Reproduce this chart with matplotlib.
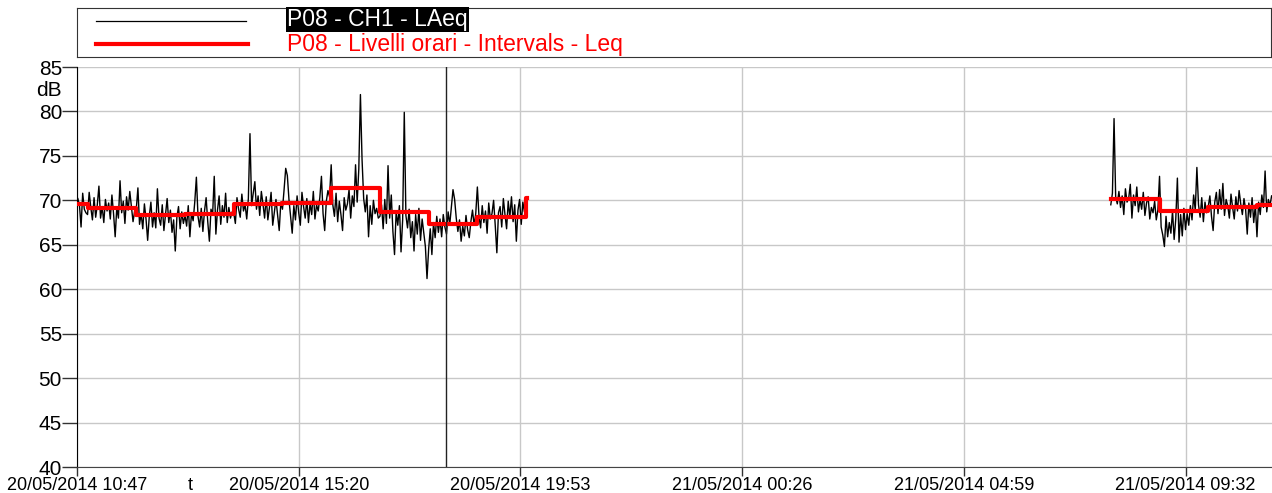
import matplotlib
matplotlib.use('Agg')
import matplotlib.pyplot as plt
import matplotlib.dates as mdates
import pandas as pd

# livelli LAeq a 2 minuti (dB)
laeq_giorno1 = [
    70.2, 69.5, 67.0, 70.8, 69.0, 68.6,  # 10:48
    68.4, 70.9, 69.2, 67.8, 70.3, 68.1, 69.5, 71.6, 68.0, 69.3, 67.5, 70.1, 68.8, 69.7, 67.9,
    70.6, 68.5, 65.9, 69.2, 68.0, 72.2, 68.6, 69.9, 67.4, 70.4, 68.9, 71.0, 69.3, 67.6, 68.8,  # 11
    69.0, 71.4, 67.3, 68.5, 66.8, 69.6, 67.9, 65.5, 68.2, 69.8, 67.0, 68.6, 66.9, 71.3, 68.0,
    67.2, 69.5, 66.6, 68.4, 70.2, 67.5, 68.9, 66.4, 67.8, 64.3, 68.1, 69.3, 66.8, 68.7, 67.4,  # 12
    68.3, 67.1, 69.4, 65.9, 68.6, 67.7, 69.8, 72.6, 68.2, 67.0, 69.1, 66.5, 68.8, 70.3, 67.6,
    65.4, 69.0, 68.4, 72.7, 66.2, 68.9, 70.5, 67.3, 69.4, 68.1, 70.8, 67.5, 69.2, 68.0, 68.7,  # 13
    68.6, 67.4, 70.3, 69.0, 68.1, 70.7, 68.8, 69.5, 67.9, 70.2, 77.5, 69.4, 70.8, 72.1, 69.0,
    70.5, 68.3, 71.0, 69.6, 68.0, 70.4, 67.8, 69.2, 70.9, 67.2, 68.7, 70.1, 68.4, 66.6, 69.8,  # 14
    69.0, 71.2, 73.6, 72.8, 70.1, 68.2, 66.3, 69.4, 67.8, 70.5, 68.6, 67.2, 70.9, 69.3, 68.0,
    70.2, 67.5, 69.7, 68.4, 71.0, 67.9, 69.5, 68.8, 70.3, 72.7, 68.5, 66.6, 69.9, 71.1, 70.4,  # 15
    74.0, 69.5, 68.2, 70.8, 67.6, 69.9, 68.4, 66.6, 70.3, 68.9, 69.6, 71.2, 68.0, 70.5, 69.3,
    74.0, 69.8, 73.5, 81.9, 74.6, 70.2, 68.7, 70.6, 65.9, 69.4, 67.3, 70.0, 68.5, 69.1, 68.0,  # 16
    68.2, 69.5, 66.8, 70.1, 67.4, 73.9, 68.0, 70.6, 66.5, 63.9, 68.7, 67.2, 69.4, 64.2, 67.8,
    79.9, 68.3, 66.9, 69.0, 65.8, 67.6, 64.3, 68.4, 66.2, 69.1, 65.5, 67.9, 66.3, 64.8, 61.2,  # 17
    64.5, 66.8, 63.9, 67.5, 65.8, 68.2, 66.4, 67.9, 65.9, 68.4, 67.0, 66.2, 68.7, 67.3, 69.2,
    71.2, 70.1, 68.0, 66.5, 67.8, 65.4, 67.1, 66.0, 68.3, 66.7, 65.8, 67.6, 68.9, 67.2, 68.5,  # 18
    71.5, 68.2, 66.9, 69.4, 67.5, 68.8, 66.3, 69.7, 67.9, 68.5, 70.0, 67.2, 64.1, 68.6, 69.3,
    67.0, 70.2, 68.4, 66.8, 69.9, 68.1, 70.4, 67.6, 69.5, 65.4, 68.9, 70.1, 67.3, 69.8, 68.7,  # 19
    70.3,  # 20:00
]
laeq_giorno2 = [
    69.5, 70.8, 79.2, 70.4, 69.6, 71.0, 69.2, 70.5, 68.4, 71.3, 69.8, 70.2, 71.8, 68.0, 70.6,
    69.4, 71.5, 68.7, 70.1, 69.0, 70.9, 68.3, 69.7, 70.4, 67.9, 69.2, 68.6, 69.9, 67.8, 68.9,  # 08
    72.7, 67.0, 66.1, 64.8, 68.2, 65.9, 67.5, 66.3, 68.8, 65.6, 67.9, 72.5, 65.3, 68.4, 66.0,
    69.1, 66.7, 68.5, 67.2, 69.4, 67.8, 70.6, 68.9, 73.7, 69.5, 68.1, 70.3, 67.6, 69.8, 68.6,  # 09
    69.3, 70.5, 68.2, 66.6, 69.8, 70.9, 68.5, 71.2, 69.0, 71.9, 68.3, 70.1, 69.4, 68.0, 70.7,
    69.2, 67.9, 70.4, 68.8, 71.1, 69.6, 68.4, 70.2, 69.0, 66.2, 69.7, 68.1, 70.3, 67.5, 69.5,  # 10
    65.9, 69.8, 68.4, 70.6, 69.2, 73.3, 68.7, 70.1, 69.4, 70.5,  # 11
]

# livelli orari Leq (inizio intervallo, valore)
ore_giorno1 = ['2014-05-20 10:47', '2014-05-20 11:00', '2014-05-20 12:00', '2014-05-20 13:00',
               '2014-05-20 14:00', '2014-05-20 15:00', '2014-05-20 16:00', '2014-05-20 17:00',
               '2014-05-20 18:00', '2014-05-20 19:00', '2014-05-20 20:00', '2014-05-20 20:01']
leq_giorno1 = [69.6, 69.1, 68.3, 68.5, 69.6, 69.7, 71.4, 68.7, 67.3, 68.1, 70.3, 70.3]
ore_giorno2 = ['2014-05-21 08:00', '2014-05-21 09:00', '2014-05-21 10:00',
               '2014-05-21 11:00', '2014-05-21 11:19']
leq_giorno2 = [70.2, 68.8, 69.2, 69.5, 69.5]

tick_x = ['2014-05-20 10:47', '2014-05-20 15:20', '2014-05-20 19:53',
          '2014-05-21 00:26', '2014-05-21 04:59', '2014-05-21 09:32']
tick_y = [40, 45, 50, 55, 60, 65, 70, 75, 80, 85]
cursore = '2014-05-20 18:21'

plt.rcParams['font.family'] = ['Liberation Sans', 'DejaVu Sans']

W, H = 1272, 493
fig = plt.figure(figsize=(W / 100, H / 100), dpi=100)
ax = fig.add_axes([77 / W, 1 - 467 / H, 1 - 77 / W, 400 / H])

t1 = pd.date_range('2014-05-20 10:48', periods=len(laeq_giorno1), freq='2min')
t2 = pd.date_range('2014-05-21 08:00', periods=len(laeq_giorno2), freq='2min')
ax.plot(t1, laeq_giorno1, color='black', lw=1.0, zorder=3)
ax.plot(t2, laeq_giorno2, color='black', lw=1.0, zorder=3)

ax.step(pd.to_datetime(ore_giorno1), leq_giorno1, where='post', color='#ff0000', lw=3, zorder=4)
ax.step(pd.to_datetime(ore_giorno2), leq_giorno2, where='post', color='#ff0000', lw=3, zorder=4)

ax.axvline(pd.to_datetime(cursore), color='#222222', lw=1, zorder=5)

ax.set_xlim(pd.to_datetime('2014-05-20 10:47'), pd.to_datetime('2014-05-21 11:18:30'))
ax.set_ylim(40, 85)
ax.set_yticks(tick_y)
ax.set_xticks(pd.to_datetime(tick_x))
ax.xaxis.set_major_formatter(mdates.DateFormatter('%d/%m/%Y %H:%M'))

ax.grid(True, color='#c8c8c8', lw=1, zorder=0)
for s in ['top', 'right']:
    ax.spines[s].set_visible(False)
ax.spines['left'].set_color('black')
ax.spines['bottom'].set_color('#444444')
ax.tick_params(axis='y', length=10.8, width=1, color='#333333', pad=0, labelsize=15)
ax.tick_params(axis='x', length=6.5, width=1, color='#333333', pad=0.5, labelsize=13)

fig.text(62 / W, 1 - 91 / H, 'dB', ha='right', va='center', fontsize=15)
fig.text(190 / W, 1 - 485 / H, 't', ha='center', va='center', fontsize=13)

# riquadro legenda
lg = fig.add_axes([77 / W, 1 - 57 / H, 1 - 77 / W - 0.001, 49 / H])
lg.set_xlim(77, W)
lg.set_ylim(57, 8)
lg.set_xticks([])
lg.set_yticks([])
for s in lg.spines.values():
    s.set_color('#333333')
lg.plot([96, 246], [21, 21], color='black', lw=0.9)
lg.plot([96, 248], [44, 44], color='#ff0000', lw=3)
lg.text(287, 19.5, 'P08 - CH1 - LAeq', color='white', va='center', fontsize=16.5,
        bbox=dict(facecolor='black', edgecolor='none', boxstyle='square,pad=0.05'))
lg.text(287, 44.5, 'P08 - Livelli orari - Intervals - Leq', color='#ff0000', va='center',
        fontsize=16.5)

fig.savefig('out.png', dpi=100)
